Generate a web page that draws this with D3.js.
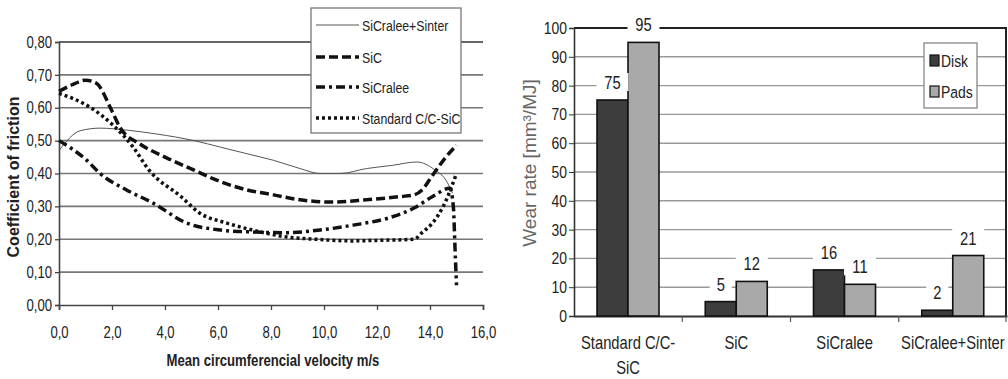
<!DOCTYPE html>
<html>
<head>
<meta charset="utf-8">
<script src="https://cdn.jsdelivr.net/npm/d3@7"></script>
<style>
  body { margin: 0; background: #fff; }
  svg { display: block; }
  text { font-family: "Liberation Sans", Arial, sans-serif; }
</style>
</head>
<body>
<svg id="chart" width="1008" height="379"></svg>
<script>
// friction curves: [velocity m/s, coefficient]
var sinterPts = [[0,0.47],[0.8,0.53],[1.55,0.538],[2.55,0.532],[3.7,0.52],[5.1,0.50],[6.1,0.48],[7.1,0.46],[8.1,0.44],[9.1,0.415],[9.85,0.40],[10.6,0.40],[11.6,0.415],[12.6,0.425],[13.5,0.435],[14.2,0.41],[14.6,0.38],[14.85,0.34]];
var sicPts = [[0,0.65],[0.5,0.67],[1.0,0.684],[1.4,0.675],[2.0,0.59],[2.3,0.54],[3.05,0.49],[4.0,0.45],[5.1,0.41],[6.1,0.375],[7.1,0.35],[8.1,0.335],[9.1,0.32],[10.3,0.313],[11.6,0.32],[12.9,0.33],[13.4,0.335],[13.7,0.35],[14.1,0.395],[14.6,0.45],[15.0,0.486]];
var sicraleePts = [[0,0.50],[1.05,0.44],[1.55,0.40],[2.55,0.35],[3.55,0.31],[4.8,0.25],[6.1,0.228],[7.3,0.222],[8.6,0.22],[9.85,0.228],[11.1,0.243],[12.4,0.264],[13.4,0.295],[14.1,0.33],[14.75,0.355],[14.88,0.30],[14.95,0.16],[15.0,0.06]];
var standardPts = [[0,0.644],[1.2,0.60],[2.0,0.55],[2.8,0.48],[3.4,0.41],[4.6,0.33],[5.3,0.28],[6.3,0.25],[7.3,0.228],[8.6,0.207],[9.7,0.20],[11.0,0.195],[12.2,0.197],[13.4,0.20],[13.7,0.22],[14.1,0.25],[14.5,0.30],[15.0,0.40]];
var frictionNames = ["SiCralee+Sinter", "SiC", "SiCralee", "Standard C/C-SiC"];
var xTicks = [0, 2, 4, 6, 8, 10, 12, 14, 16];
var yTicks = [0, 0.1, 0.2, 0.3, 0.4, 0.5, 0.6, 0.7, 0.8];

// wear rates
var materials = ["Standard C/C-SiC", "SiC", "SiCralee", "SiCralee+Sinter"];
var diskWear = [75, 5, 16, 2];
var padsWear = [95, 12, 11, 21];
var wearNames = ["Disk", "Pads"];
var wearTicks = [0, 10, 20, 30, 40, 50, 60, 70, 80, 90, 100];

var svg = d3.select("#chart");
var K = 0.82; // horizontal squeeze, narrow face look

// squeeze text horizontally around its own x position
function narrow(sel) {
  sel.each(function() {
    var t = d3.select(this);
    var x0 = +t.attr("x") || 0;
    t.attr("x", x0 / K).attr("transform", "scale(" + K + ",1)");
  });
}

// ---------- left: coefficient of friction ----------
var x = d3.scaleLinear().domain([0, 16]).range([59, 483]);
var y = d3.scaleLinear().domain([0, 0.8]).range([305, 42]);
var left = svg.append("g");

left.selectAll("line.grid").data(yTicks.slice(1)).enter().append("line")
  .attr("class", "grid")
  .attr("x1", x(0)).attr("x2", x(16))
  .attr("y1", d => y(d)).attr("y2", d => y(d))
  .style("stroke", d => d == 0.8 ? "#333" : "#777")
  .style("stroke-width", 1.7);

var yAxisL = left.append("g").attr("transform", "translate(" + x(0) + ",0)")
  .call(d3.axisLeft(y).tickValues(yTicks).tickSize(4).tickFormat(d => d3.format(".2f")(d).replace(".", ",")));
var xAxisL = left.append("g").attr("transform", "translate(0," + y(0) + ")")
  .call(d3.axisBottom(x).tickValues(xTicks).tickSize(5).tickFormat(d => d3.format(".1f")(d).replace(".", ",")));
[yAxisL, xAxisL].forEach(function(a) {
  a.select(".domain").style("stroke", "#444").style("stroke-width", 1.6);
  a.selectAll(".tick line").style("stroke", "#444").style("stroke-width", 1.3);
  a.selectAll("text").attr("font-family", null).style("font-size", "16px").style("fill", "#222");
});
yAxisL.selectAll("text").attr("x", -7).call(narrow);
xAxisL.selectAll("text").attr("y", 22).call(narrow);

var styles = [
  {w: 1, dash: null, color: "#555"},
  {w: 3.5, dash: "9,4", color: "#111"},
  {w: 3.5, dash: "9,4,3,4", color: "#111"},
  {w: 3.5, dash: "3,3", color: "#111"}
];
var line = d3.line().x(d => x(d[0])).y(d => y(d[1])).curve(d3.curveMonotoneX);
[sinterPts, sicPts, sicraleePts, standardPts].forEach(function(pts, i) {
  left.append("path").datum(pts)
    .attr("d", line)
    .style("fill", "none")
    .style("stroke", styles[i].color)
    .style("stroke-width", styles[i].w)
    .style("stroke-dasharray", styles[i].dash);
});

// legend
var legL = left.append("g");
legL.append("rect").attr("x", 311).attr("y", 8).attr("width", 150).attr("height", 125)
  .style("fill", "#fff").style("stroke", "#777").style("stroke-width", 1.3);
frictionNames.forEach(function(n, i) {
  var ly = [25, 57, 87, 118][i];
  legL.append("line").attr("x1", 316).attr("x2", 359).attr("y1", ly).attr("y2", ly)
    .style("stroke", styles[i].color).style("stroke-width", styles[i].w)
    .style("stroke-dasharray", styles[i].dash);
  legL.append("text").attr("x", 362).attr("y", ly + 6)
    .style("font-size", "15px").style("fill", "#222").text(n).call(narrow);
});

left.append("text").attr("transform", "translate(19,177) rotate(-90)")
  .attr("text-anchor", "middle").style("font-weight", "bold")
  .style("font-size", "16px").style("fill", "#222").text("Coefficient of friction");
left.append("text").attr("x", 273).attr("y", 366)
  .attr("text-anchor", "middle").style("font-weight", "bold")
  .style("font-size", "16px").style("fill", "#222").text("Mean circumferencial velocity  m/s")
  .call(narrow);

// ---------- right: wear rate bars ----------
var xb = d3.scaleBand().domain(materials).range([574, 1007]);
var xs = d3.scaleBand().domain(wearNames).range([23, 85]);
var yb = d3.scaleLinear().domain([0, 100]).range([316, 28]);
var colors = {Disk: "#3d3d3d", Pads: "#a9a9a9"};
var right = svg.append("g");

right.selectAll("line.grid").data(wearTicks.slice(1, -1)).enter().append("line")
  .attr("class", "grid")
  .attr("x1", 574).attr("x2", 1007)
  .attr("y1", d => yb(d)).attr("y2", d => yb(d))
  .style("stroke", "#999").style("stroke-width", 1.4);
// plot frame top and right
right.append("path").attr("d", "M574," + yb(100) + "H1006V" + yb(0))
  .style("fill", "none").style("stroke", "#222").style("stroke-width", 2);

var yAxisR = right.append("g").attr("transform", "translate(574,0)")
  .call(d3.axisLeft(yb).tickValues(wearTicks).tickSize(5));
var xAxisR = right.append("g").attr("transform", "translate(0," + yb(0) + ")")
  .call(d3.axisBottom(xb).tickSize(0).tickFormat(""));
yAxisR.select(".domain").style("stroke", "#333").style("stroke-width", 1.6);
yAxisR.selectAll(".tick line").style("stroke", "#333");
yAxisR.selectAll("text").attr("font-family", null).attr("x", -7)
  .style("font-size", "17px").style("fill", "#222").call(narrow);
xAxisR.select(".domain").style("stroke", "#333").style("stroke-width", 2);
// separators between categories
xAxisR.selectAll("line.sep").data(materials.slice(1).concat(["end"])).enter().append("line")
  .attr("class", "sep")
  .attr("x1", d => d == "end" ? 1006 : xb(d)).attr("x2", d => d == "end" ? 1006 : xb(d))
  .attr("y1", 0).attr("y2", 6)
  .style("stroke", "#555").style("stroke-width", 1.2);

var rows = [];
materials.forEach(function(m, i) {
  rows.push({m: m, s: "Disk", v: diskWear[i]});
  rows.push({m: m, s: "Pads", v: padsWear[i]});
});

right.selectAll("rect.bar").data(rows).enter().append("rect")
  .attr("class", "bar")
  .attr("x", d => xb(d.m) + xs(d.s))
  .attr("y", d => yb(d.v))
  .attr("width", xs.bandwidth())
  .attr("height", d => yb(0) - yb(d.v))
  .style("fill", d => colors[d.s])
  .style("stroke", "#111").style("stroke-width", 1.6);

// value labels with white knock-out behind
var lab = right.selectAll("g.lab").data(rows).enter().append("g").attr("class", "lab")
  .attr("transform", d => "translate(" + (xb(d.m) + xs(d.s) + xs.bandwidth() / 2) + "," + (yb(d.v) - 18) + ")");
lab.append("rect").attr("x", d => -(String(d.v).length * 5 + 6)).attr("y", -9)
  .attr("width", d => String(d.v).length * 10 + 12).attr("height", 18).style("fill", "#fff");
lab.append("text").attr("text-anchor", "middle").attr("y", 7)
  .style("font-size", "18px").style("fill", "#222").text(d => d.v).call(narrow);

// category labels, the first one wrapped onto two lines
materials.forEach(function(m) {
  var g = right.append("g").attr("transform", "translate(" + (xb(m) + xb.bandwidth() / 2) + ",0) scale(" + K + ",1)");
  var parts = m == "Standard C/C-SiC" ? ["Standard C/C-", "SiC"] : [m];
  parts.forEach(function(p, k) {
    g.append("text").attr("text-anchor", "middle").attr("y", 349 + k * 25)
      .style("font-size", "18px").style("fill", "#222").text(p);
  });
});

// legend
var legR = right.append("g");
legR.append("rect").attr("x", 924).attr("y", 43).attr("width", 53).attr("height", 65)
  .style("fill", "#fff").style("stroke", "#888").style("stroke-width", 1.3);
wearNames.forEach(function(n, i) {
  var ly = [61, 92][i];
  legR.append("rect").attr("x", 930).attr("y", ly - 6).attr("width", 9).attr("height", 11)
    .style("fill", colors[n]).style("stroke", "#111").style("stroke-width", 1.2);
  legR.append("text").attr("x", 941).attr("y", ly + 6)
    .style("font-size", "17px").style("fill", "#222").text(n).call(narrow);
});

right.append("text").attr("transform", "translate(536,163) rotate(-90)")
  .attr("text-anchor", "middle")
  .style("font-size", "19px").style("fill", "#666").text("Wear rate [mm³/MJ]");
</script>
</body>
</html>
